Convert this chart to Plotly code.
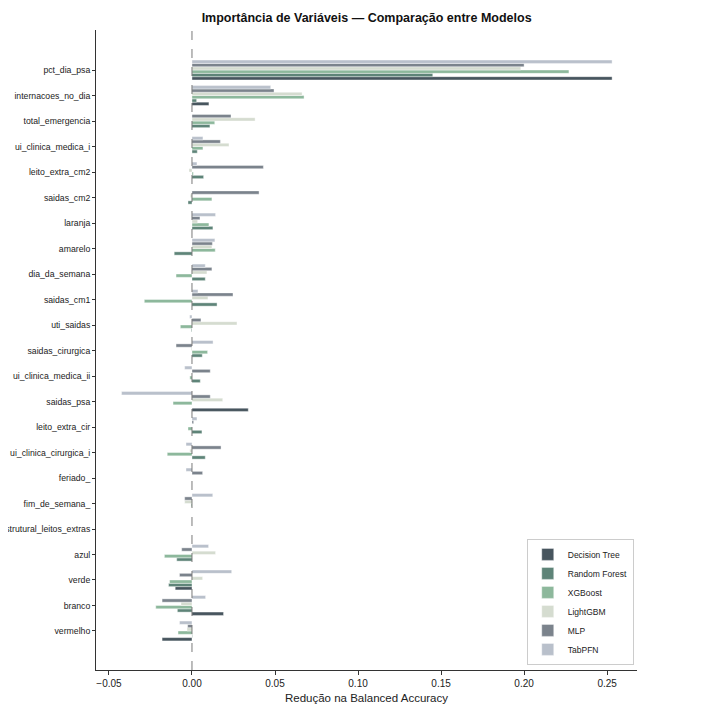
import plotly.graph_objects as go

# variables, top to bottom as in the chart
variaveis = [
    "pct_dia_psa", "internacoes_no_dia", "total_emergencia", "ui_clinica_medica_i",
    "leito_extra_cm2", "saidas_cm2", "laranja", "amarelo", "dia_da_semana",
    "saidas_cm1", "uti_saidas", "saidas_cirurgica", "ui_clinica_medica_ii",
    "saidas_psa", "leito_extra_cir", "ui_clinica_cirurgica_i", "feriado_",
    "fim_de_semana_", "diferenca_estrutural_leitos_extras", "azul", "verde",
    "branco", "vermelho",
]

decision_tree = [0.253, 0.0102, 0, 0, 0, 0, 0, 0, 0, 0, 0, 0, 0,
                 0.0339, 0, 0, 0, 0, 0, 0, -0.0101, 0.019, -0.018]
random_forest = [0.145, 0.0028, 0.0108, 0.0032, 0.007, -0.0024, 0.0126, -0.0107, 0.008,
                 0.0151, -0.0004, 0.0062, 0.005, 0, 0.006, 0.008, 0, 0, 0,
                 -0.0092, -0.0141, -0.0088, 0.0003]
xgboost = [0.227, 0.0675, 0.0137, 0.0066, 0.0008, 0.012, 0.0102, 0.014, -0.0096,
           -0.0287, -0.007, 0.0094, -0.0013, -0.0114, -0.0024, -0.0149, 0, -0.0005, 0,
           -0.0166, -0.0135, -0.0218, -0.0084]
lightgbm = [0.198, 0.0663, 0.038, 0.0223, -0.0018, -0.001, 0.0034, 0.012, 0.009,
            0.0096, 0.0271, -0.0005, 0, 0.0185, 0, -0.0013, 0, -0.0044, 0,
            0.0142, 0.0064, -0.0066, -0.003]
mlp = [0.200, 0.0494, 0.0235, 0.0171, 0.043, 0.0404, 0.0048, 0.0123, 0.012,
       0.0247, 0.0054, -0.0096, 0.011, 0.011, 0.001, 0.0175, 0.0064, -0.0044, 0,
       -0.0062, -0.0075, -0.018, -0.0026]
tabpfn = [0.253, 0.0474, 0, 0.0066, 0.003, 0, 0.0142, 0.0138, 0.008,
          0.0036, -0.0014, 0.0127, -0.0044, -0.0424, 0.003, -0.0036, -0.0036, 0.0125, 0,
          0.010, 0.0239, 0.0082, -0.0075]

modelos = ["Decision Tree", "Random Forest", "XGBoost", "LightGBM", "MLP", "TabPFN"]
valores = [decision_tree, random_forest, xgboost, lightgbm, mlp, tabpfn]
cores = ["#47555e", "#5e8478", "#8db89c", "#d5dcd0", "#7b838c", "#b9c0cb"]

fig = go.Figure()
for nome, vals, cor in zip(modelos, valores, cores):
    fig.add_trace(go.Bar(
        x=vals, y=variaveis, name=nome, orientation="h",
        marker=dict(color=cor, line=dict(color="white", width=0.4)),
    ))

fig.add_vline(x=0, line=dict(color="#555555", width=0.8, dash="dash"))

# page body adds 8px offset, so figure is 8px smaller than the window
font = "Liberation Sans, Arial, sans-serif"
fig.update_layout(
    width=695, height=699,
    margin=dict(l=88, r=66, t=22, b=37),
    plot_bgcolor="white", paper_bgcolor="white",
    barmode="group", bargap=0.22, bargroupgap=0,
    font=dict(family=font, size=9, color="#222222"),
    title=dict(text="<b>Importância de Variáveis — Comparação entre Modelos</b>",
               x=0.516, xanchor="center", y=0.986, yanchor="middle",
               font=dict(size=12.5, color="#111111")),
    legend=dict(x=0.994, y=0.008, xanchor="right", yanchor="bottom",
                bgcolor="white", bordercolor="#cccccc", borderwidth=1,
                font=dict(size=8.5), tracegroupgap=0, itemwidth=30),
    showlegend=True,
)

fig.update_xaxes(
    range=[-0.0578, 0.268], tickvals=[-0.05, 0, 0.05, 0.1, 0.15, 0.2, 0.25],
    tickformat=".2f", showgrid=False, zeroline=False,
    showline=True, linecolor="#333333", linewidth=1,
    ticks="outside", ticklen=4, tickcolor="#333333", tickfont=dict(size=10),
    title=dict(text="Redução na Balanced Accuracy", font=dict(size=11.5), standoff=5),
    automargin=False,
)
fig.update_yaxes(
    categoryorder="array", categoryarray=variaveis[::-1],
    range=[-1.53, 23.57], showgrid=False, zeroline=False,
    showline=True, linecolor="#333333", linewidth=1,
    ticks="outside", ticklen=3, tickcolor="#333333",
    tickfont=dict(size=8.7), ticklabelstandoff=0,
    automargin=False,
)

fig.write_html("out.html")
